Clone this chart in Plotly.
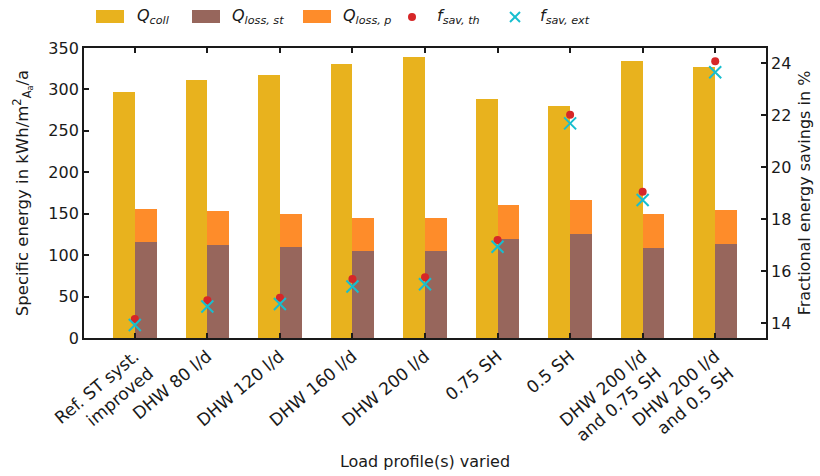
import plotly.graph_objects as go

# Load profile variants
categories = [
    "Ref. ST syst.<br>improved", "DHW 80 l/d", "DHW 120 l/d", "DHW 160 l/d",
    "DHW 200 l/d", "0.75 SH", "0.5 SH",
    "DHW 200 l/d<br>and 0.75 SH", "DHW 200 l/d<br>and 0.5 SH",
]
# Specific energies in kWh/m2/a
q_coll = [297, 311, 317, 331, 339, 289, 280, 334, 327]
q_loss_st = [116, 112, 110, 105, 105, 120, 125, 109, 113]
q_loss_p = [40, 41, 40, 40, 40, 41, 42, 41, 42]
# Fractional energy savings in %
f_sav_th = [14.15, 14.87, 14.97, 15.69, 15.76, 17.19, 22.01, 19.05, 24.07]
f_sav_ext = [13.92, 14.63, 14.73, 15.40, 15.49, 16.93, 21.68, 18.73, 23.65]

C_COLL = "#e8b21e"
C_ST = "#97665c"
C_P = "#fe8c2a"
C_TH = "#d62728"
C_EXT = "#17becf"
FONT = "DejaVu Sans"
INK = "#1a1a1a"

idx = list(range(len(categories)))
left_x = [i - 0.15 for i in idx]
right_x = [i + 0.15 for i in idx]

fig = go.Figure()
fig.add_trace(go.Bar(x=left_x, y=q_coll, width=0.3, marker_color=C_COLL,
                     marker_line_width=0, name="Q_coll", showlegend=False))
fig.add_trace(go.Bar(x=right_x, y=q_loss_st, width=0.3, marker_color=C_ST,
                     marker_line_width=0, name="Q_loss,st", showlegend=False))
fig.add_trace(go.Bar(x=right_x, y=q_loss_p, base=q_loss_st, width=0.3,
                     marker_color=C_P, marker_line_width=0, name="Q_loss,p",
                     showlegend=False))
fig.add_trace(go.Scatter(x=idx, y=f_sav_th, yaxis="y2", mode="markers",
                         marker=dict(symbol="circle", size=8, color=C_TH),
                         name="f_sav,th", showlegend=False))
fig.add_trace(go.Scatter(x=idx, y=f_sav_ext, yaxis="y2", mode="markers",
                         marker=dict(symbol="x-thin", size=12,
                                     line=dict(width=2, color=C_EXT)),
                         name="f_sav,ext", showlegend=False))

# plot area in pixels: x 84..766, y 48..338
PL, PR, PT, PB = 84, 766, 48, 338


def px_x(p):
    return (p - PL) / (PR - PL)


def px_y(p):
    return (PB - p) / (PB - PT)


shapes = []
annotations = []
# legend: bar swatches
for x0, x1, col in [(96, 124, C_COLL), (192, 220, C_ST), (303, 331, C_P)]:
    shapes.append(dict(type="rect", xref="paper", yref="paper",
                       x0=px_x(x0), x1=px_x(x1), y0=px_y(23), y1=px_y(10),
                       fillcolor=col, line_width=0))
# legend: circle marker
shapes.append(dict(type="circle", xref="paper", yref="paper",
                   x0=px_x(408), x1=px_x(416), y0=px_y(21), y1=px_y(13),
                   fillcolor=C_TH, line_width=0))
# legend: x marker
for (xa, ya, xb, yb) in [(510, 12, 520, 22), (510, 22, 520, 12)]:
    shapes.append(dict(type="line", xref="paper", yref="paper",
                       x0=px_x(xa), y0=px_y(ya), x1=px_x(xb), y1=px_y(yb),
                       line=dict(color=C_EXT, width=2)))

legend_labels = [
    (135, "<i>Q</i><sub><i>coll</i></sub>"),
    (230, "<i>Q</i><sub><i>loss, st</i></sub>"),
    (341, "<i>Q</i><sub><i>loss, p</i></sub>"),
    (435, "<i>f</i><sub><i>sav, th</i></sub>"),
    (538, "<i>f</i><sub><i>sav, ext</i></sub>"),
]
for x, txt in legend_labels:
    annotations.append(dict(xref="paper", yref="paper", x=px_x(x), y=px_y(16),
                            text=txt, showarrow=False, xanchor="left",
                            yanchor="middle", font=dict(size=16, color=INK,
                                                        family=FONT)))

fig.update_layout(
    width=820, height=476,
    margin=dict(l=PL, r=820 - PR, t=PT, b=476 - PB),
    paper_bgcolor="white", plot_bgcolor="white",
    barmode="overlay", bargap=0,
    font=dict(family=FONT, size=16, color=INK),
    shapes=shapes, annotations=annotations,
    xaxis=dict(
        range=[-0.7, 8.7], tickmode="array", tickvals=idx, ticktext=categories,
        tickangle=-40, ticks="inside", ticklen=5, tickwidth=1.5,
        tickcolor=INK, showline=True, linecolor=INK, linewidth=1.8,
        mirror="ticks", showgrid=False, zeroline=False, automargin=False,
        tickfont=dict(size=17),
        title=dict(text="Load profile(s) varied", font=dict(size=16),
                   standoff=10),
    ),
    yaxis=dict(
        range=[0, 350], dtick=50, ticks="inside", ticklen=5, tickwidth=1.5,
        tickcolor=INK, showline=True, linecolor=INK, linewidth=1.8,
        showgrid=False, zeroline=False, automargin=False,
        tickfont=dict(size=16),
        title=dict(text="Specific energy in kWh/m<sup>2</sup><sub>A<sub>a</sub></sub>/a",
                   font=dict(size=16.5), standoff=16),
    ),
    yaxis2=dict(
        overlaying="y", side="right", range=[13.42, 24.58],
        tickvals=[14, 16, 18, 20, 22, 24], ticks="inside", ticklen=5,
        tickwidth=1.5, tickcolor=INK, showline=True, linecolor=INK,
        linewidth=1.8, showgrid=False, zeroline=False, automargin=False,
        tickfont=dict(size=16),
        title=dict(text="Fractional energy savings in %", font=dict(size=16),
                   standoff=8),
    ),
)

fig.write_html("out.html")
